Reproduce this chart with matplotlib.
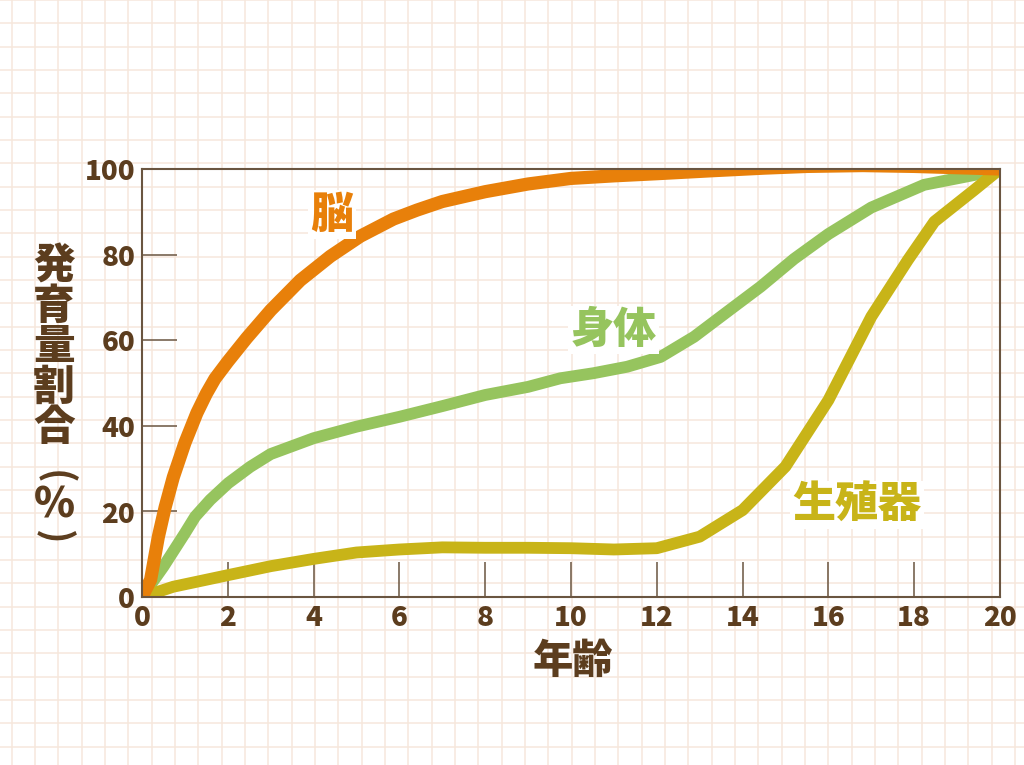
import numpy as np
import matplotlib
matplotlib.use('Agg')
import matplotlib.pyplot as plt

plt.rcParams['font.family'] = ['Noto Sans CJK JP', 'DejaVu Sans']

# Scammon growth curves (age in years, % of adult size)
age_brain = [0, 0.2, 0.38, 0.54, 0.73, 1.0, 1.28, 1.5, 1.7, 2.0, 2.44, 3.0, 3.69, 4.39, 5.09, 5.86,
             6.41, 7, 8, 9, 10, 11, 12, 13.3, 14.5, 15.5, 16.8, 18, 19, 20]
brain = [0, 4, 14, 21, 28, 36, 43, 47.5, 51, 55, 60.5, 67, 74, 79.6, 84.3, 88.3,
         90.4, 92.4, 94.7, 96.5, 97.8, 98.4, 98.9, 99.6, 100.2, 100.6, 100.8, 100.6, 100.3, 100]

age_body = [0, 0.5, 1.0, 1.24, 1.59, 2.01, 2.52, 3.0, 4, 5, 6, 7, 8, 9, 9.75, 10.53, 11.31,
            12.09, 12.87, 13.65, 14.42, 15.2, 16.0, 17.0, 18.23, 19.4, 20]
body = [0, 7.1, 14.9, 18.8, 22.7, 26.6, 30.4, 33.4, 37.1, 39.8, 42.1, 44.6, 47.2, 49.1, 51.1, 52.3, 53.8,
        56.1, 60.8, 66.7, 72.5, 79.0, 84.8, 91.0, 96.3, 98.6, 100]

age_repro = [0, 0.73, 2, 3, 4, 5, 6, 7, 8, 9, 10, 11, 12, 13, 14, 15, 16,
             17, 17.85, 18.47, 19.4, 20]
repro = [0, 2.4, 5.1, 7.2, 8.9, 10.4, 11.1, 11.6, 11.5, 11.5, 11.4, 11.1, 11.4, 14.1, 20.3, 30.5, 46.0,
         65.5, 78.7, 87.7, 95.1, 100]

xticks = list(range(0, 21, 2))
yticks = [0, 20, 40, 60, 80, 100]

brown = '#5c3d1e'
axis_col = '#6a5540'
orange = '#e8800a'
green = '#96c45e'
yellow = '#c8b418'

W, H = 1024, 765
fig = plt.figure(figsize=(W / 100, H / 100), dpi=100)
fig.patch.set_facecolor('white')

# graph paper background
bg = fig.add_axes([0, 0, 1, 1], zorder=-5)
bg.set_xlim(0, W)
bg.set_ylim(H, 0)
bg.axis('off')
for gx in np.arange(11.67, W, 23.33):
    bg.axvline(gx, color='#f6e7dc', lw=1.1)
for gy in np.arange(0, H, 23.33):
    bg.axhline(gy, color='#f6e7dc', lw=1.1)

ax = fig.add_axes([142 / W, 1 - 597 / H, (1000 - 142) / W, (597 - 169) / H])
ax.set_facecolor('none')

style = dict(solid_capstyle='round', solid_joinstyle='round')
ax.plot(age_body, body, color=green, lw=8.5, **style)
ax.plot(age_repro, repro, color=yellow, lw=8.5, **style)
ax.plot(age_brain, brain, color=orange, lw=9.5, **style)

ax.set_xlim(0, 20)
ax.set_ylim(0, 100)
ax.set_xticks(xticks)
ax.set_yticks(yticks)
ax.tick_params(direction='in', length=25, width=1.1, color=axis_col, pad=5,
               labelsize=20, labelcolor=brown)
for lab in ax.get_xticklabels() + ax.get_yticklabels():
    lab.set_fontweight('heavy')
for s in ax.spines.values():
    s.set_color(axis_col)
    s.set_linewidth(1.5)

box = dict(facecolor='white', edgecolor='none', pad=2)
ax.text(4.43, 89.3, '脳', color=orange, fontsize=31, fontweight='heavy',
        ha='center', va='center', bbox=box)
ax.text(11.0, 62.4, '身体', color=green, fontsize=31, fontweight='heavy',
        ha='center', va='center', bbox=box)
ax.text(16.66, 21.5, '生殖器', color=yellow, fontsize=31, fontweight='heavy',
        ha='center', va='center', bbox=box)

# x label
fig.text(573 / W, 1 - 661 / H, '年齢', color=brown, fontsize=29, fontweight='heavy',
         ha='center', va='center')

# vertical y label, one character per slot
ylab_chars = ['発', '育', '量', '割', '合']
ylab_pos = [267, 307, 347, 388, 428]
for ch, py in zip(ylab_chars, ylab_pos):
    fig.text(54 / W, 1 - py / H, ch, color=brown, fontsize=30, fontweight='heavy',
             ha='center', va='center')
fig.text(54 / W, 1 - 477 / H, '(', color=brown, fontsize=28, fontweight='bold',
         ha='center', va='center', rotation=-90)
fig.text(54 / W, 1 - 506 / H, '%', color=brown, fontsize=30, fontweight='heavy',
         ha='center', va='center')
fig.text(54 / W, 1 - 537 / H, ')', color=brown, fontsize=28, fontweight='bold',
         ha='center', va='center', rotation=-90)

fig.savefig('out.png', dpi=100, facecolor='white')
